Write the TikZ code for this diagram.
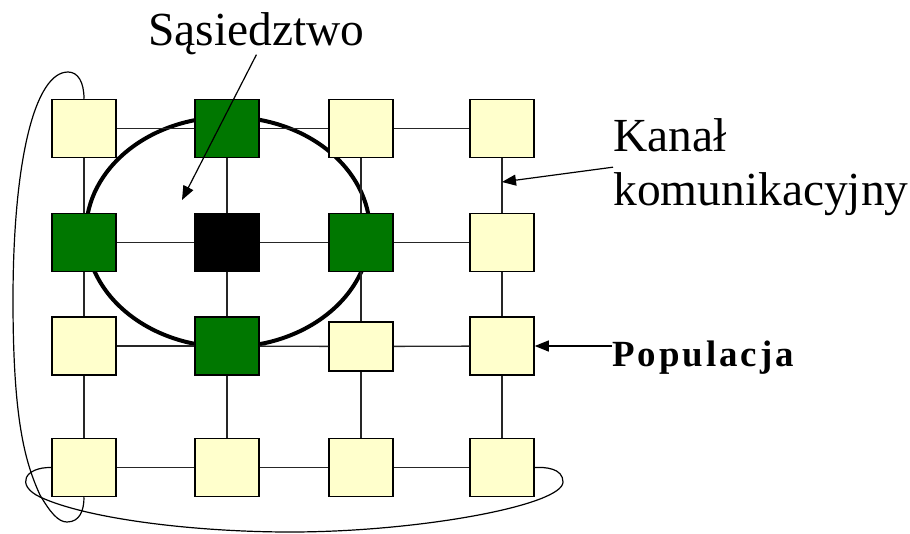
\documentclass[tikz,border=0pt]{standalone}
\usepackage{fontspec}
\setmainfont{Liberation Serif}
\usetikzlibrary{arrows.meta}
\definecolor{pale}{RGB}{255,255,204}
\definecolor{leaf}{RGB}{0,119,0}
\tikzset{
  cell/.style={draw, line width=0.3mm, fill=pale, minimum width=12.8mm, minimum height=11.6mm, inner sep=0pt},
  near/.style={cell, fill=leaf},
  link/.style={draw, line width=0.26mm, black!85},
  wrap/.style={draw, line width=0.24mm},
  pointer/.style={draw, line width=0.24mm, -{Triangle[length=2.8mm,width=2.2mm]}},
  lbl/.style={inner sep=0pt, font=\fontsize{27}{31}\selectfont}
}
\begin{document}
\begin{tikzpicture}[x=0.2mm, y=-0.2mm]
\useasboundingbox (0,0) rectangle (910,533);
% neighbourhood of the centre cell
\path[draw, line width=0.8mm] (228,232) ellipse [x radius=28.4mm, y radius=23mm];
\node[cell] (n11) at (84,128.5) {};
\node[near] (n12) at (227,128.5) {};
\node[cell] (n13) at (361,128.5) {};
\node[cell] (n14) at (502,128.5) {};
\node[near] (n21) at (84,242.5) {};
\node[cell, fill=black] (n22) at (227,242.5) {};
\node[near] (n23) at (361,242.5) {};
\node[cell] (n24) at (502,242.5) {};
\node[cell] (n31) at (84,346) {};
\node[near] (n32) at (227,346) {};
\node[cell, minimum height=9.8mm] (n33) at (361,346.5) {};
\node[cell] (n34) at (502,346) {};
\node[cell] (n41) at (84,467.5) {};
\node[cell] (n42) at (227,467.5) {};
\node[cell] (n43) at (361,467.5) {};
\node[cell] (n44) at (502,467.5) {};
% rows
\path[link] (n11) -- (n12);
\path[link] (n12) -- (n13);
\path[link] (n13) -- (n14);
\path[link] (n21) -- (n22);
\path[link] (n22) -- (n23);
\path[link] (n23) -- (n24);
\path[link] (n31) -- (n32);
\path[link] (n32) -- (n33);
\path[link] (n33) -- (n34);
\path[link] (n41) -- (n42);
\path[link] (n42) -- (n43);
\path[link] (n43) -- (n44);
% columns
\path[link] (n11) -- (n21);
\path[link] (n21) -- (n31);
\path[link] (n31) -- (n41);
\path[link] (n12) -- (n22);
\path[link] (n22) -- (n32);
\path[link] (n32) -- (n42);
\path[link] (n13) -- (n23);
\path[link] (n23) -- (n33);
\path[link] (n33) -- (n43);
\path[link] (n14) -- (n24);
\path[link] (n24) -- (n34);
\path[link] (n34) -- (n44);
% torus wrap-around links
\path[wrap] (n11.north) .. controls (84,82) and (78,72) .. (68,72)
  .. controls (35,72) and (13,160) .. (13,300)
  .. controls (13,420) and (25,462) .. (40,495)
  .. controls (50,512) and (58,522) .. (67,522)
  .. controls (80,522) and (84,510) .. (n41.south);
\path[wrap] (n41.west) .. controls (25,467) and (15,485) .. (40,497)
  .. controls (90,520) and (200,532) .. (290,532)
  .. controls (420,532) and (563,505) .. (563,482)
  .. controls (563,468) and (545,467) .. (n44.east);
% labels
\node[lbl, anchor=base west] (sas) at (148,45) {Sąsiedztwo};
\node[lbl, anchor=north west, align=left] (kanal) at (613,118) {Kanał\\komunikacyjny};
\node[lbl, anchor=base west, font=\fontsize{21}{25}\selectfont\bfseries\addfontfeature{LetterSpace=8}] (pop) at (612,366) {Populacja};
\coordinate (hole) at (182,200);
\coordinate (chan) at (502,182);
\path[pointer] (sas.south) -- (hole);
\path[pointer] (kanal.west) -- (chan);
\path[pointer] (pop.west |- n34.east) -- (n34.east);
\end{tikzpicture}
\end{document}
